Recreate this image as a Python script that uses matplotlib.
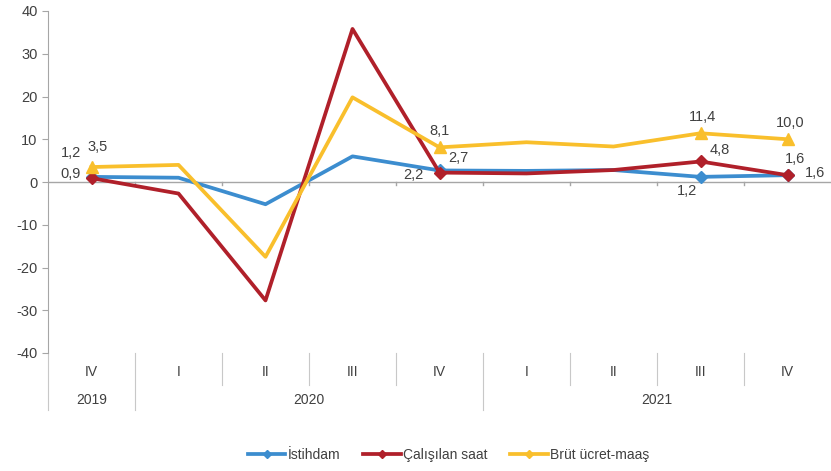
import numpy as np
import matplotlib.pyplot as plt
from matplotlib.lines import Line2D

plt.rcParams['font.family'] = ['Liberation Sans', 'DejaVu Sans']
plt.rcParams['axes.unicode_minus'] = False

# Data
quarters = ['IV', 'I', 'II', 'III', 'IV', 'I', 'II', 'III', 'IV']
years = ['2019', '2020', '2021']
year_spans = [(0, 0), (1, 4), (5, 8)]

istihdam = [1.2, 1.0, -5.2, 6.0, 2.7, 2.6, 2.8, 1.2, 1.6]
calisilan = [0.9, -2.7, -27.7, 35.8, 2.2, 2.0, 2.8, 4.8, 1.6]
brut = [3.5, 4.0, -17.5, 19.8, 8.1, 9.3, 8.3, 11.4, 10.0]

labelled = [0, 4, 7, 8]

c_blue = '#3C8DCF'
c_red = '#B0202A'
c_yel = '#F9BF2C'
grey = '#A6A6A6'
txt = '#404040'

fig = plt.figure(figsize=(8.31, 4.71), dpi=100)
ax = fig.add_axes([48 / 831, 1 - 353 / 471, 1 - 48 / 831, 342 / 471])

x = np.arange(len(quarters))
ax.plot(x, istihdam, color=c_blue, lw=2.7, zorder=3)
ax.plot(x, calisilan, color=c_red, lw=2.7, zorder=4)
ax.plot(x, brut, color=c_yel, lw=2.7, zorder=5)

ax.plot(x[labelled], np.array(istihdam)[labelled], 'D', color=c_blue, ms=6.5, ls='none', zorder=3)
ax.plot(x[labelled], np.array(calisilan)[labelled], 'D', color=c_red, ms=6.5, ls='none', zorder=4)
ax.plot(x[labelled], np.array(brut)[labelled], '^', color=c_yel, ms=9, ls='none', zorder=5)

ax.set_xlim(-0.5, len(quarters) - 0.5)
ax.set_ylim(-40, 40)
ax.set_yticks(range(-40, 41, 10))
ax.set_xticks([])
for s in ['top', 'right', 'bottom']:
    ax.spines[s].set_visible(False)
ax.spines['left'].set_color(grey)
ax.tick_params(axis='y', colors=grey, length=4, labelcolor=txt, labelsize=10.5)

# zero line with small ticks at category boundaries
ax.axhline(0, color=grey, lw=1, zorder=2)
for b in np.arange(0.5, len(quarters) - 0.5, 1):
    ax.plot([b, b], [0, -0.8], color=grey, lw=1, zorder=2)

# category axis below the plot
tr = ax.get_xaxis_transform()
for i, q in enumerate(quarters):
    ax.text(i, -0.056, q, transform=tr, ha='center', va='center',
            fontsize=10, color=txt, clip_on=False)
for yr, (a, b) in zip(years, year_spans):
    ax.text((a + b) / 2, -0.137, yr, transform=tr, ha='center', va='center',
            fontsize=10, color=txt, clip_on=False)
year_bounds = [a - 0.5 for a, b in year_spans]
for b in np.arange(-0.5, len(quarters) - 0.5, 1):
    low = -0.167 if b in year_bounds else -0.094
    ax.plot([b, b], [0, low], transform=tr, color='#C8C8C8', lw=0.8, clip_on=False)

# data labels
offsets = {
    'b': {0: (-21, 24), 4: (19, 12), 7: (-13, -14), 8: (28, 2)},
    'r': {0: (-21, 4), 4: (-26, -2), 7: (19, 11), 8: (7, 16)},
    'y': {0: (6, 20), 4: (0, 16), 7: (2, 16), 8: (3, 16)},
}
for key, vals in [('b', istihdam), ('r', calisilan), ('y', brut)]:
    for i in labelled:
        ax.annotate(f'{vals[i]:.1f}'.replace('.', ','), (i, vals[i]),
                    xytext=offsets[key][i], textcoords='offset pixels',
                    ha='center', va='center', fontsize=10.5, color=txt, zorder=6)

handles = [
    Line2D([], [], color=c_blue, lw=2.7, marker='D', ms=4),
    Line2D([], [], color=c_red, lw=2.7, marker='D', ms=4),
    Line2D([], [], color=c_yel, lw=2.7, marker='D', ms=4),
]
fig.legend(handles, ['İstihdam', 'Çalışılan saat', 'Brüt ücret-maaş'],
           loc='center', bbox_to_anchor=(0.54, 0.034), ncol=3, frameon=False,
           fontsize=10, handlelength=2.7, handletextpad=0.2, columnspacing=1.6,
           labelcolor=txt)

fig.savefig('out.png', dpi=100)
